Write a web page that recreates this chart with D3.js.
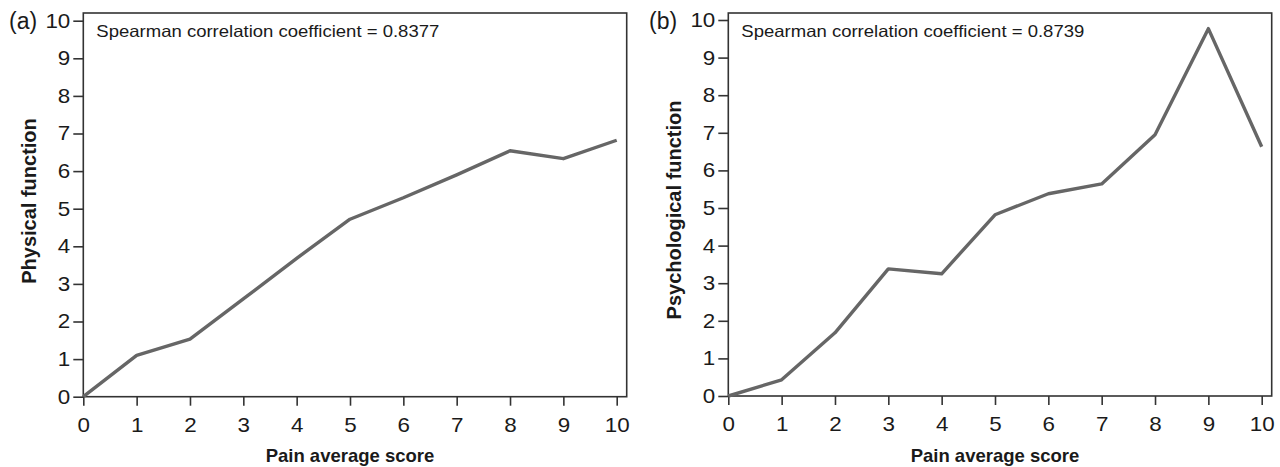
<!DOCTYPE html>
<html>
<head>
<meta charset="utf-8">
<script src="https://cdn.jsdelivr.net/npm/d3@7"></script>
<style>
  body { margin: 0; background: #fff; }
  svg text { font-family: "Liberation Sans", Arial, sans-serif; fill: #1a1a1a; }
</style>
</head>
<body>
<svg id="chart" width="1280" height="467"></svg>
<script>
const painScores = [0, 1, 2, 3, 4, 5, 6, 7, 8, 9, 10];
const physicalValues = [0, 1.1, 1.53, 2.6, 3.68, 4.72, 5.29, 5.9, 6.54, 6.33, 6.82];
const psychValues = [0, 0.43, 1.68, 3.38, 3.25, 4.82, 5.38, 5.64, 6.95, 9.77, 6.63];
const yTicks = [0, 1, 2, 3, 4, 5, 6, 7, 8, 9, 10];
const xTicks = [0, 1, 2, 3, 4, 5, 6, 7, 8, 9, 10];

const panels = [
  {tag: "(a)", yTitle: "Physical function", rho: "0.8377", values: physicalValues,
   left: 83.3, bottom: 396.7, tagX: 8, titleY: 201},
  {tag: "(b)", yTitle: "Psychological function", rho: "0.8739", values: psychValues,
   left: 728.3, bottom: 396, tagX: 648, titleY: 210}
];

const svg = d3.select("#chart");
const plotW = 533.4, plotH = 376, boxTop = 13, padRight = 10;
const stretch = 1.12; // tick labels are a bit wider than plain Arial

panels.forEach(function (p) {
  const x = d3.scaleLinear().domain([0, 10]).range([p.left, p.left + plotW]);
  const y = d3.scaleLinear().domain([0, 10]).range([p.bottom, p.bottom - plotH]);
  const g = svg.append("g");

  // frame round the plot
  g.append("rect")
    .attr("x", p.left).attr("y", boxTop)
    .attr("width", plotW + padRight).attr("height", p.bottom - boxTop)
    .attr("fill", "none").attr("stroke", "#333").attr("stroke-width", 1.6);

  const yAxis = g.append("g")
    .attr("transform", "translate(" + p.left + ",0)")
    .call(d3.axisLeft(y).tickValues(yTicks).tickSize(10).tickPadding(3).tickSizeOuter(0));
  const xAxis = g.append("g")
    .attr("transform", "translate(0," + p.bottom + ")")
    .call(d3.axisBottom(x).tickValues(xTicks).tickSize(9).tickPadding(12).tickSizeOuter(0));

  [yAxis, xAxis].forEach(function (a) {
    a.select(".domain").remove();
    a.selectAll(".tick line").attr("stroke", "#333").attr("stroke-width", 1.6);
    a.selectAll(".tick text").style("font-size", "20px")
      .style("font-family", "'Liberation Sans', Arial, sans-serif").attr("fill", "#1a1a1a")
      .attr("x", function () { return +d3.select(this).attr("x") / stretch; })
      .attr("transform", "scale(" + stretch + ",1)");
  });

  const line = d3.line()
    .x((d, i) => x(painScores[i]))
    .y(d => y(d));

  g.append("path")
    .datum(p.values)
    .attr("d", line)
    .attr("fill", "none")
    .attr("stroke", "#666")
    .attr("stroke-width", 3.4)
    .attr("stroke-linejoin", "round");

  g.append("text")
    .attr("x", p.left + 13).attr("y", 37)
    .style("font-size", "16.5px")
    .attr("textLength", 343)
    .attr("lengthAdjust", "spacingAndGlyphs")
    .text("Spearman correlation coefficient = " + p.rho);

  g.append("text")
    .attr("x", p.tagX + 1).attr("y", 29)
    .style("font-size", "23px")
    .text(p.tag);

  g.append("text")
    .attr("x", p.left + plotW / 2).attr("y", 462)
    .attr("text-anchor", "middle")
    .style("font-size", "18.5px").style("font-weight", "bold")
    .text("Pain average score");

  g.append("text")
    .attr("transform", "translate(" + (p.left - 47) + "," + p.titleY + ") rotate(-90)")
    .attr("text-anchor", "middle")
    .style("font-size", "20px").style("font-weight", "bold")
    .text(p.yTitle);
});
</script>
</body>
</html>
